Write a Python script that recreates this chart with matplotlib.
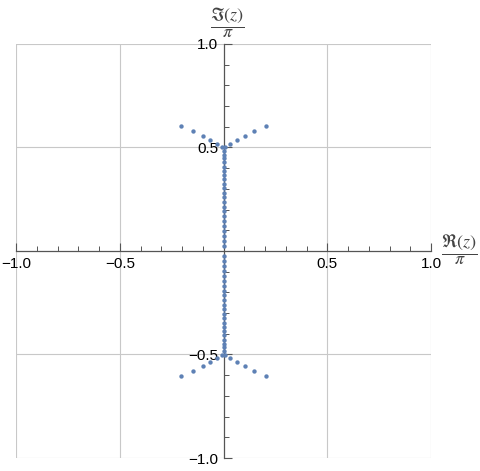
import numpy as np
import matplotlib.pyplot as plt

plt.rcParams['font.family'] = ['Liberation Sans', 'DejaVu Sans']
plt.rcParams['mathtext.fontset'] = 'stix'

# zeros, real and imaginary parts divided by pi (upper half plane)
wing_re = [-0.204, -0.146, -0.101, -0.066, -0.032, -0.008,
           0.008, 0.032, 0.066, 0.101, 0.146, 0.204]
wing_im = [0.605, 0.578, 0.556, 0.536, 0.518, 0.504,
           0.504, 0.518, 0.536, 0.556, 0.578, 0.605]
axis_im = [0.484, 0.466, 0.447, 0.428, 0.408, 0.388, 0.367, 0.346,
           0.325, 0.303, 0.281, 0.259, 0.237, 0.214, 0.191, 0.168,
           0.145, 0.122, 0.098, 0.074, 0.050, 0.026]

# conjugate pairs for the lower half
re = np.concatenate([wing_re, np.zeros(len(axis_im)), wing_re, np.zeros(len(axis_im))])
im = np.concatenate([wing_im, axis_im, -np.array(wing_im), -np.array(axis_im)])

fig = plt.figure(figsize=(4.8, 4.71), dpi=100)
ax = fig.add_axes([0.0333, 0.0276, 0.865, 0.879])

grid_c = '#c8c8c8'
for v in [-1, -0.5, 0.5, 1]:
    ax.axvline(v, color=grid_c, lw=0.8, zorder=0)
    ax.axhline(v, color=grid_c, lw=0.8, zorder=0)

ax.scatter(re, im, s=10, color='#5e81b5', zorder=3, linewidths=0)

ax.set_xlim(-1, 1)
ax.set_ylim(-1, 1)
for s in ['top', 'right']:
    ax.spines[s].set_visible(False)
ax.spines['left'].set_position(('data', 0))
ax.spines['bottom'].set_position(('data', 0))
for s in ['left', 'bottom']:
    ax.spines[s].set_color('#555555')
    ax.spines[s].set_linewidth(0.9)
    ax.spines[s].set_zorder(2)

major = [-1.0, -0.5, 0.5, 1.0]
ax.set_xticks(major)
ax.set_yticks(major)
ax.set_xticklabels(['\u22121.0', '\u22120.5', '0.5', '1.0'])
ax.set_yticklabels(['\u22121.0', '\u22120.5', '0.5', '1.0'])
minor = [t / 10 for t in range(-10, 11) if t % 5 != 0]
ax.set_xticks(minor, minor=True)
ax.set_yticks(minor, minor=True)
ax.tick_params(which='major', direction='in', length=6, width=0.8,
               color='#555555', labelsize=11, labelcolor='black', pad=4)
ax.tick_params(which='minor', direction='in', length=3.5, width=0.7,
               color='#555555')

ax.patch.set_visible(False)

fig.text(0.474, 0.952, r'$\dfrac{\Im(z)}{\pi}$', ha='center', va='center',
         fontsize=13, color='#444444')
fig.text(0.958, 0.469, r'$\dfrac{\Re(z)}{\pi}$', ha='center', va='center',
         fontsize=13, color='#444444')

fig.savefig('out.png', dpi=100)
